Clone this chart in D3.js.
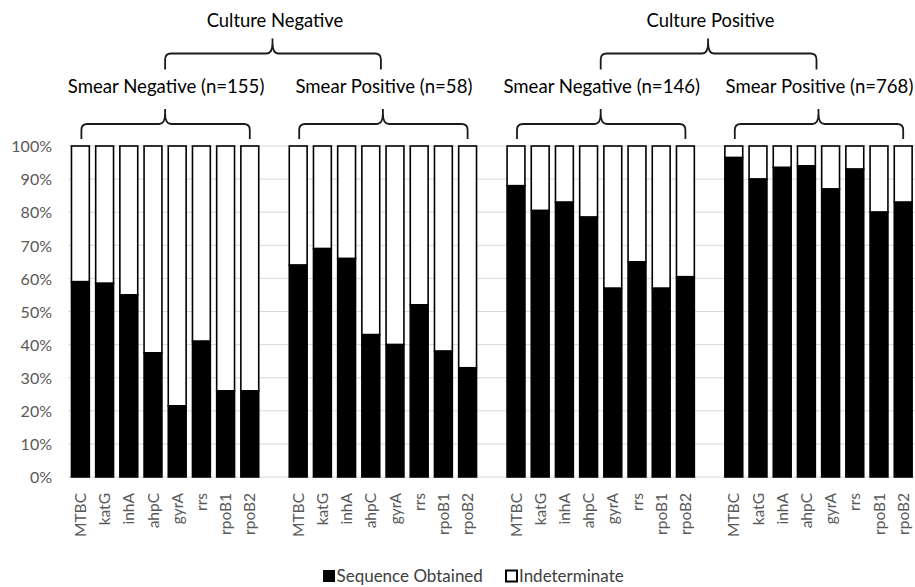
<!DOCTYPE html>
<html>
<head>
<meta charset="utf-8">
<script src="https://cdn.jsdelivr.net/npm/d3@7"></script>
<style>
  html, body { margin: 0; padding: 0; background: #fff; }
  svg { display: block; font-family: Lato, "Open Sans", sans-serif; }
</style>
</head>
<body>
<svg id="chart" width="915" height="587"></svg>
<script>
// ---- data ----
const genes = ["MTBC", "katG", "inhA", "ahpC", "gyrA", "rrs", "rpoB1", "rpoB2"];
const groupLabels = ["Smear Negative (n=155)", "Smear Positive (n=58)", "Smear Negative (n=146)", "Smear Positive (n=768)"];
const cultureLabels = ["Culture Negative", "Culture Positive"];
const seqCultNegSmearNeg = [59, 58.5, 55, 37.5, 21.5, 41, 26, 26];
const seqCultNegSmearPos = [64, 69, 66, 43, 40, 52, 38, 33];
const seqCultPosSmearNeg = [88, 80.5, 83, 78.5, 57, 65, 57, 60.5];
const seqCultPosSmearPos = [96.5, 90, 93.5, 94, 87, 93, 80, 83];
const yTicks = [0, 10, 20, 30, 40, 50, 60, 70, 80, 90, 100];
const seriesNames = ["Sequence Obtained", "Indeterminate"];

const groupValues = [seqCultNegSmearNeg, seqCultNegSmearPos, seqCultPosSmearNeg, seqCultPosSmearPos];

// build category list (with one empty slot between groups)
const slots = [];
const records = [];
groupValues.forEach((vals, gi) => {
  genes.forEach((g, i) => {
    const key = "g" + gi + "-" + g;
    slots.push(key);
    records.push({ key, gene: g, group: gi, seq: vals[i] });
  });
  if (gi < groupValues.length - 1) slots.push("gap" + gi);
});

const svg = d3.select("#chart");
const plotLeft = 68.3, plotTop = 146, plotBottom = 477;
const step = 24.2;
const plotRight = plotLeft + step * slots.length;

const x = d3.scaleBand().domain(slots).range([plotLeft, plotRight]).paddingInner(0.2).paddingOuter(0.1);
const y = d3.scaleLinear().domain([0, 100]).range([plotBottom, plotTop]);

// gridlines
svg.append("g").selectAll("line").data(yTicks).join("line")
  .attr("x1", plotLeft).attr("x2", 915)
  .attr("y1", d => y(d)).attr("y2", d => y(d))
  .attr("stroke", "#d9d9d9").attr("stroke-width", 1);

// y axis labels
const yAxis = d3.axisLeft(y).tickValues(yTicks).tickFormat(d => d + "%").tickSize(0).tickPadding(0);
const yg = svg.append("g").attr("transform", `translate(${52},0)`).call(yAxis);
yg.select(".domain").remove();
yg.selectAll("text").attr("font-size", 16).attr("fill", "#595959").attr("font-family", "Lato, sans-serif").attr("dy", "0.36em");

// bars
const barG = svg.append("g");
const bw = x.bandwidth();
// indeterminate (white) segment
barG.selectAll("rect.ind").data(records).join("rect")
  .attr("class", "ind")
  .attr("x", d => x(d.key) + 0.75)
  .attr("width", bw - 1.5)
  .attr("y", d => y(100))
  .attr("height", d => y(d.seq) - y(100))
  .attr("fill", "#fff").attr("stroke", "#000").attr("stroke-width", 1.6);
// sequence obtained (black) segment
barG.selectAll("rect.seq").data(records).join("rect")
  .attr("class", "seq")
  .attr("x", d => x(d.key) + 0.75)
  .attr("width", bw - 1.5)
  .attr("y", d => y(d.seq))
  .attr("height", d => y(0) - y(d.seq))
  .attr("fill", "#000").attr("stroke", "#000").attr("stroke-width", 1.6);

// x labels (rotated)
const xg = svg.append("g");
xg.selectAll("text").data(records).join("text")
  .attr("transform", d => `translate(${x(d.key) + bw / 2 + 5.5},${plotBottom + 16}) rotate(-90)`)
  .attr("text-anchor", "end")
  .attr("font-size", 15.5)
  .attr("fill", "#595959")
  .text(d => d.gene);

// brace helper: horizontal curly brace opening downward
function brace(x1, x2, xc, yTop, yMid, yBot) {
  const r = 6;
  return `M${x1},${yBot} L${x1},${yMid + r} Q${x1},${yMid} ${x1 + r},${yMid} L${xc - r},${yMid} Q${xc},${yMid} ${xc},${yTop + (yMid - yTop) * 0.3} L${xc},${yTop}` +
    ` M${xc},${yTop + (yMid - yTop) * 0.3} Q${xc},${yMid} ${xc + r},${yMid} L${x2 - r},${yMid} Q${x2},${yMid} ${x2},${yMid + r} L${x2},${yBot}`;
}

// group centers & lower braces
const groupInfo = groupLabels.map((lab, gi) => {
  const first = x("g" + gi + "-" + genes[0]) + bw / 2;
  const last = x("g" + gi + "-" + genes[genes.length - 1]) + bw / 2;
  return { lab, first, last, center: (first + last) / 2 };
});

const braceG = svg.append("g").attr("fill", "none").attr("stroke", "#1a1a1a").attr("stroke-width", 1.8);
groupInfo.forEach(g => {
  braceG.append("path").attr("d", brace(g.first + 1, g.last, g.center, 109, 124, 139));
});
// group labels
svg.append("g").selectAll("text").data(groupInfo).join("text")
  .attr("x", d => d.center + 1).attr("y", 93)
  .attr("text-anchor", "middle").attr("font-size", 18.6).attr("fill", "#000")
  .text(d => d.lab);

// culture braces
const cultureInfo = cultureLabels.map((lab, ci) => {
  const a = groupInfo[ci * 2].center, b = groupInfo[ci * 2 + 1].center;
  return { lab, a, b, center: (a + b) / 2 };
});
cultureInfo.forEach(c => {
  braceG.append("path").attr("d", brace(c.a, c.b - 2, c.center - 1.5, 38.5, 53.5, 69.5));
});
svg.append("g").selectAll("text").data(cultureInfo).join("text")
  .attr("x", d => d.center + 1).attr("y", 26.5)
  .attr("text-anchor", "middle").attr("font-size", 18.4).attr("fill", "#000")
  .text(d => d.lab);

// legend
const legendX = [322.5, 505];
const legendG = svg.append("g");
seriesNames.forEach((name, i) => {
  legendG.append("rect")
    .attr("x", legendX[i] + 1).attr("y", 570.5).attr("width", 11).attr("height", 11)
    .attr("fill", i === 0 ? "#000" : "#fff").attr("stroke", "#000").attr("stroke-width", i === 0 ? 1 : 2);
  legendG.append("text")
    .attr("x", legendX[i] + 14).attr("y", 582)
    .attr("font-size", 17).attr("fill", "#404040")
    .text(name);
});
</script>
</body>
</html>
